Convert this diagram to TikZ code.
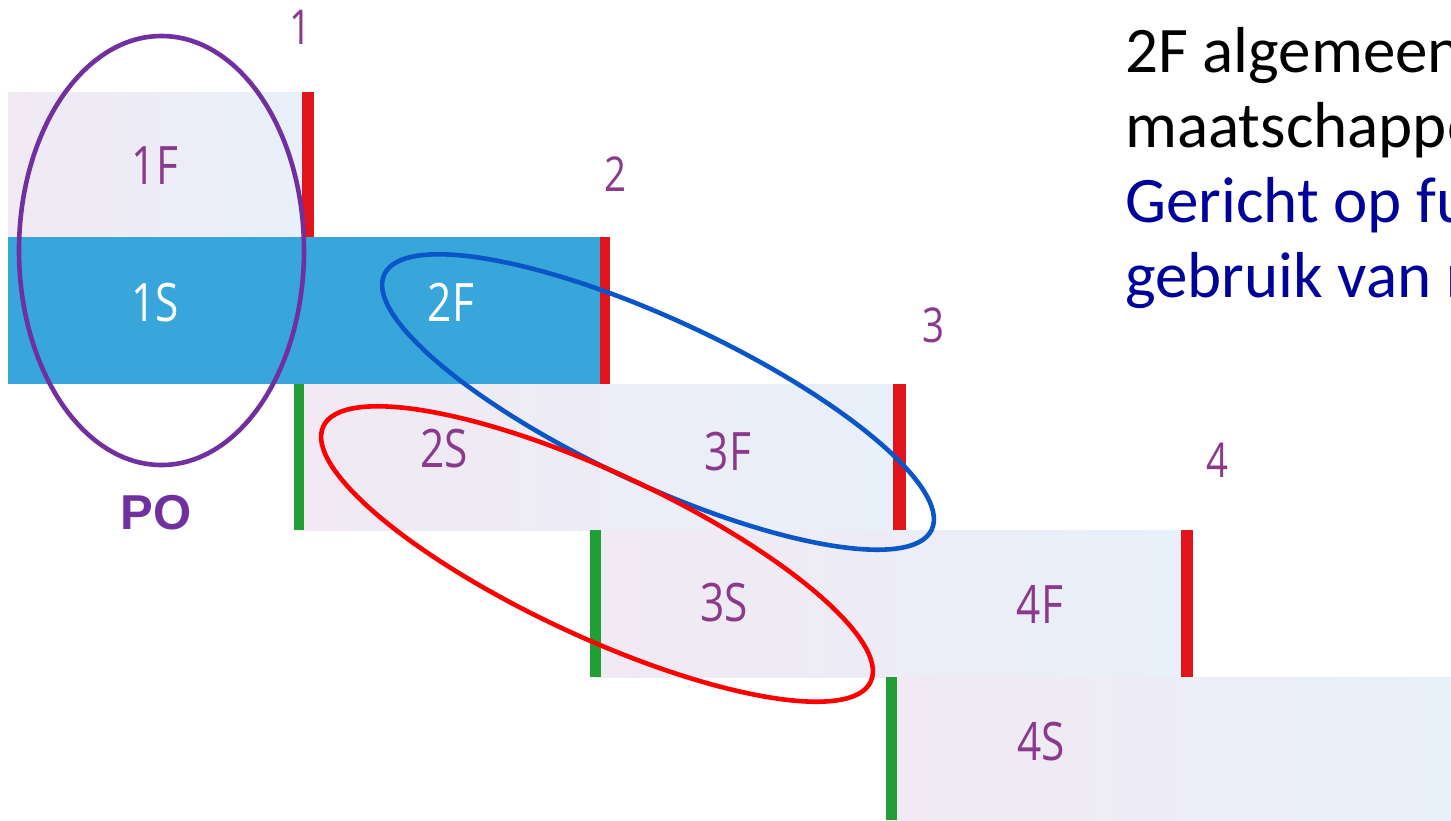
\documentclass[tikz,border=0pt]{standalone}
\usepackage{fontspec}
\setmainfont{Carlito}
\newfontfamily\labfont{Open Sans}
\newfontfamily\pofont{Liberation Sans}
\newcommand{\narrowtxt}[1]{\scalebox{0.8}[1]{#1}}
\definecolor{labc}{HTML}{8B3A8B}
\definecolor{pinkL}{HTML}{F1E9F3}
\definecolor{blueL}{HTML}{E8F0F9}
\definecolor{bandblue}{HTML}{38A6DA}
\definecolor{redbar}{HTML}{E1141E}
\definecolor{greenbar}{HTML}{219E34}
\definecolor{purpE}{HTML}{7030A0}
\definecolor{blueE}{HTML}{0A56C8}
\definecolor{redE}{HTML}{FF0000}
\definecolor{navy}{HTML}{00009A}
\begin{document}
\begin{tikzpicture}[x=1pt,y=-1pt,
  lab/.style={inner sep=0pt, text=labc, font=\labfont\fontsize{53}{53}\selectfont},
  labw/.style={lab, text=white},
  num/.style={inner sep=0pt, text=labc, font=\labfont\fontsize{48}{48}\selectfont},
  band/.style={left color=pinkL, right color=blueL},
  rbar/.style={fill=redbar},
  gbar/.style={fill=greenbar},
  ring/.style={line width=4.6pt},
  txt/.style={inner sep=0pt, anchor=base west, font=\fontsize{65}{65}\selectfont}]
\useasboundingbox (0,0) rectangle (1451,820);
\clip (0,0) rectangle (1451,820);
\fill[white] (0,0) rectangle (1451,820);
% bands
\shade[band] (8,92) rectangle (308,237);
\fill[bandblue] (8,237) rectangle (605,384);
\shade[band] (300,384) rectangle (900,530);
\shade[band] (596,530) rectangle (1187,677);
\shade[band] (892,677) rectangle (1451,820);
% bars
\fill[rbar] (302,92) rectangle (314,237);
\fill[rbar] (600,237) rectangle (610,384);
\fill[rbar] (893,384) rectangle (906,530);
\fill[rbar] (1181,530) rectangle (1193,677);
\fill[gbar] (294,384) rectangle (304,530);
\fill[gbar] (590,530) rectangle (601,677);
\fill[gbar] (886,677) rectangle (897,820);
% labels
\node[lab] (l1F) at (155,166) {\narrowtxt{1F}};
\node[labw] (l1S) at (155,303) {\narrowtxt{1S}};
\node[labw] (l2F) at (451,302) {\narrowtxt{2F}};
\node[lab] (l2S) at (444,449) {\narrowtxt{2S}};
\node[lab] (l3F) at (728,452) {\narrowtxt{3F}};
\node[lab] (l3S) at (724,603) {\narrowtxt{3S}};
\node[lab] (l4F) at (1040,604) {\narrowtxt{4F}};
\node[lab] (l4S) at (1041,742) {\narrowtxt{4S}};
\node[num] (n1) at (300,27) {\narrowtxt{1}};
\node[num] (n2) at (615,174) {\narrowtxt{2}};
\node[num] (n3) at (933,325) {\narrowtxt{3}};
\node[num] (n4) at (1217,460) {\narrowtxt{4}};
\node[inner sep=0pt, text=purpE, font=\pofont\bfseries\fontsize{49}{49}\selectfont] (po) at (156,513) {PO};
% text block
\node[txt] (t1) at (1125,72) {2F algemeen};
\node[txt] (t2) at (1125,147) {maatschappe};
\node[txt, text=navy] (t3) at (1125,222) {Gericht op fu};
\node[txt, text=navy] (t4) at (1125,297) {gebruik van r};
% ellipses
\draw[ring, purpE] (161.5,250.5) ellipse [x radius=142.5pt, y radius=214.5pt];
\draw[ring, blueE, shift={(658,402)}, rotate=-25] (0,0) ellipse [x radius=302pt, y radius=82pt];
\draw[ring, redE, shift={(597,554)}, rotate=-25] (0,0) ellipse [x radius=302pt, y radius=82pt];
\end{tikzpicture}
\end{document}
